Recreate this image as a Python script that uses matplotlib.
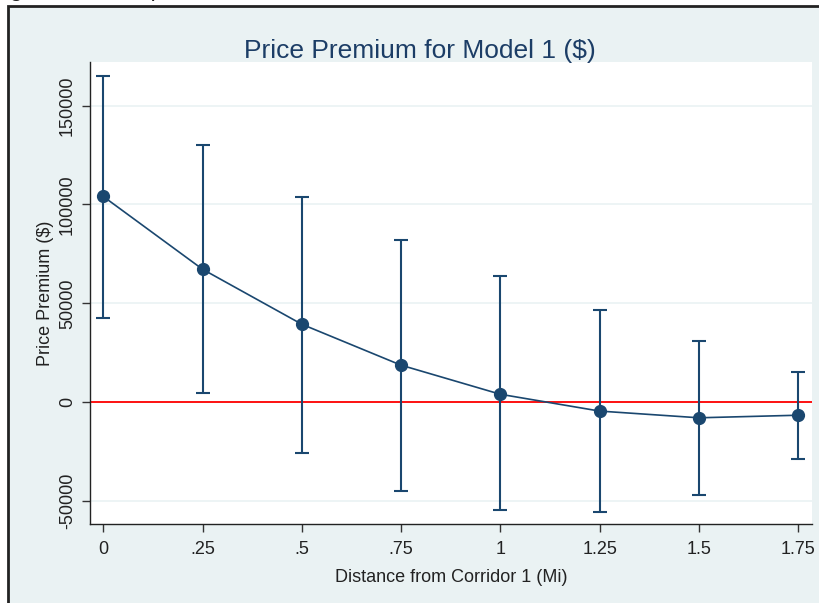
import matplotlib.pyplot as plt
from matplotlib.patches import Rectangle

# Values
distance = [0, 0.25, 0.5, 0.75, 1.0, 1.25, 1.5, 1.75]
premium = [104000, 67200, 39400, 18700, 4000, -4500, -7900, -6600]
ci_upper = [165000, 130000, 103500, 81800, 63600, 46500, 30800, 15200]
ci_lower = [42400, 4500, -25800, -45000, -54500, -55500, -47000, -28800]

x_ticks = [0, 0.25, 0.5, 0.75, 1.0, 1.25, 1.5, 1.75]
x_tick_labels = ["0", ".25", ".5", ".75", "1", "1.25", "1.5", "1.75"]
y_ticks = [-50000, 0, 50000, 100000, 150000]

NAVY = "#1a476f"
BG = "#eaf2f3"

plt.rcParams["font.family"] = ["Liberation Sans", "DejaVu Sans"]

fig = plt.figure(figsize=(8.2, 6.03), dpi=100)
fig.patch.set_facecolor("white")

# outer frame (clipped on the right and bottom like the reference)
frame = Rectangle((8 / 820, -0.2), 1.2, 1.2 - 6 / 603, transform=fig.transFigure,
                  facecolor=BG, edgecolor="#222222", linewidth=2, zorder=0)
fig.patches.append(frame)

# caption text mostly cut off at the top edge
fig.text(-0.012, 1 + 4 / 603, "Figure 1: Price premium", fontsize=17,
         color="#222222", va="baseline", ha="left", zorder=0.5)

ax = fig.add_axes([90 / 820, 79 / 603, 722 / 820, 462 / 603])
ax.set_zorder(2)
ax.set_facecolor("white")

yerr = [[p - lo for p, lo in zip(premium, ci_lower)],
        [hi - p for p, hi in zip(premium, ci_upper)]]

ax.axhline(0, color="#ff0000", linewidth=1.3, zorder=2)
ax.errorbar(distance, premium, yerr=yerr, fmt="none", ecolor=NAVY,
            elinewidth=1.5, capsize=5, capthick=1.5, zorder=3)
ax.plot(distance, premium, color=NAVY, linewidth=1.2, marker="o",
        markersize=8.5, zorder=4)

ax.set_xlim(-0.0335, 1.785)
ax.set_ylim(-61600, 172000)
ax.set_xticks(x_ticks)
ax.set_xticklabels(x_tick_labels)
ax.set_yticks(y_ticks)
ax.set_yticklabels([str(v) for v in y_ticks], rotation=90, va="center")

ax.grid(axis="y", color=BG, linewidth=1.2, zorder=1)
ax.set_axisbelow(True)

for side in ["top", "right"]:
    ax.spines[side].set_visible(False)
for side in ["left", "bottom"]:
    ax.spines[side].set_color("#222222")
    ax.spines[side].set_linewidth(1.0)

ax.tick_params(axis="both", direction="out", length=6, width=1, color="#333333",
               labelsize=13, labelcolor="#222222")
ax.tick_params(axis="y", pad=4)
ax.tick_params(axis="x", pad=6)

ax.set_xlabel("Distance from Corridor 1 (Mi)", fontsize=13, color="#222222", labelpad=8)
ax.set_ylabel("Price Premium ($)", fontsize=13, color="#222222", labelpad=4)

# title is centred on the graph region, not on the plot area
fig.text(420 / 820, 1 - 58 / 603, "Price Premium for Model 1 ($)", fontsize=19,
         color="#1c3d66", ha="center", va="baseline")

fig.savefig("out.png", dpi=100)
